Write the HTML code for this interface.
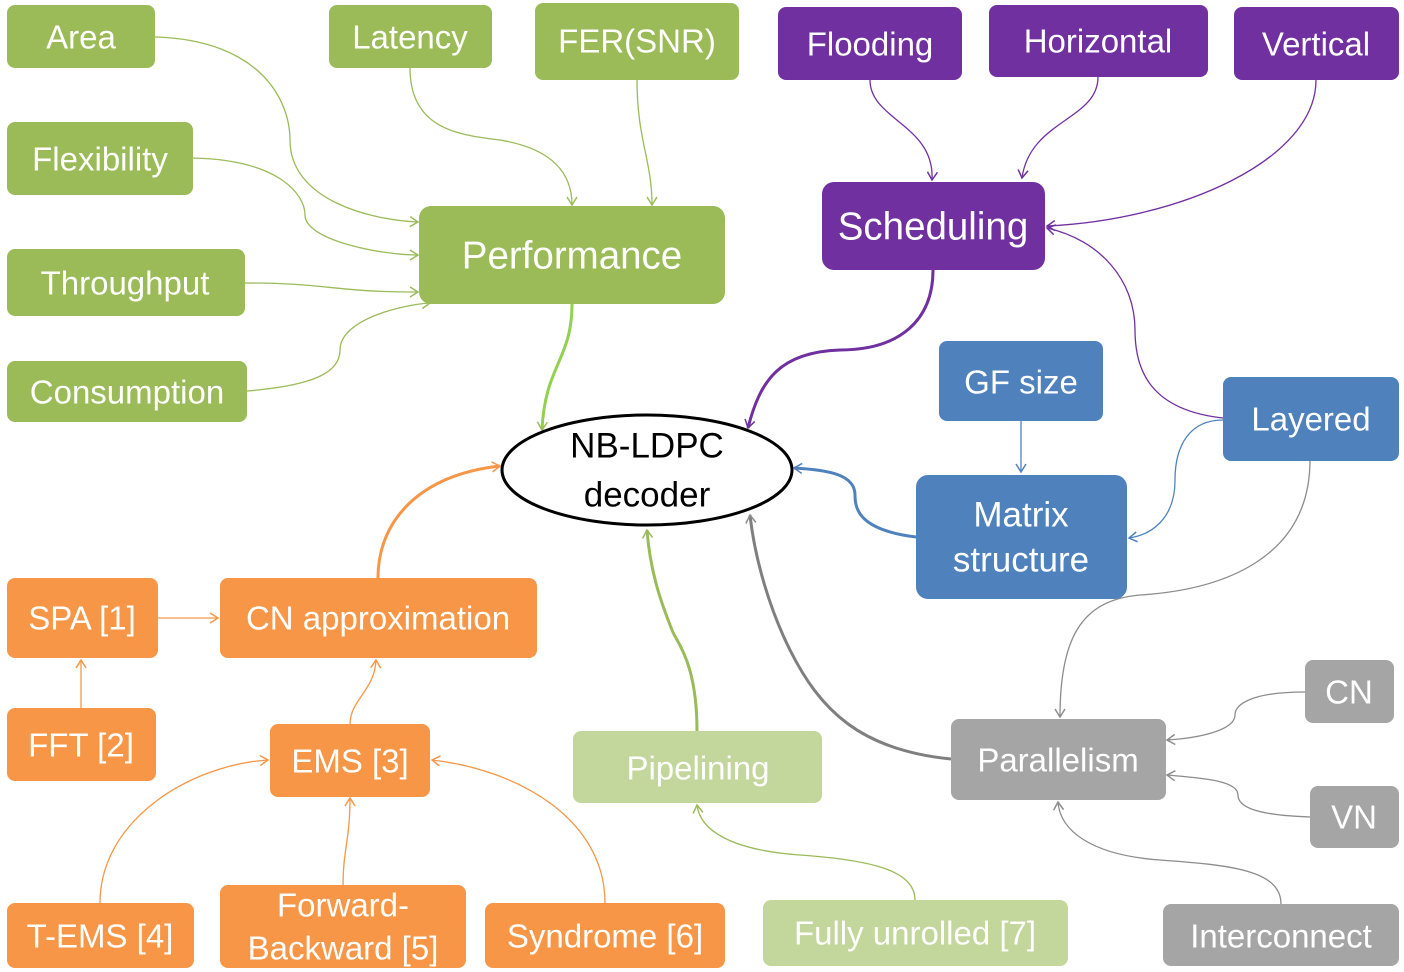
<!DOCTYPE html>
<html><head><meta charset="utf-8"><style>
html,body{margin:0;padding:0;background:#fff;}
svg{display:block;}
text{font-family:"Liberation Sans",sans-serif;fill:#fff;text-anchor:middle;dominant-baseline:central;}
</style></head><body>
<svg width="1404" height="972" viewBox="0 0 1404 972" xmlns="http://www.w3.org/2000/svg">
<defs>
<marker id="mg" markerWidth="12" markerHeight="12" refX="9" refY="6" orient="auto" markerUnits="userSpaceOnUse"><path d="M1,1 L9,6 L1,11" fill="none" stroke="#9BBB59" stroke-width="1.5"/></marker>
<marker id="mp" markerWidth="12" markerHeight="12" refX="9" refY="6" orient="auto" markerUnits="userSpaceOnUse"><path d="M1,1 L9,6 L1,11" fill="none" stroke="#7030A0" stroke-width="1.5"/></marker>
<marker id="mb" markerWidth="12" markerHeight="12" refX="9" refY="6" orient="auto" markerUnits="userSpaceOnUse"><path d="M1,1 L9,6 L1,11" fill="none" stroke="#4F81BD" stroke-width="1.5"/></marker>
<marker id="mo" markerWidth="12" markerHeight="12" refX="9" refY="6" orient="auto" markerUnits="userSpaceOnUse"><path d="M1,1 L9,6 L1,11" fill="none" stroke="#F79646" stroke-width="1.5"/></marker>
<marker id="mx" markerWidth="12" markerHeight="12" refX="9" refY="6" orient="auto" markerUnits="userSpaceOnUse"><path d="M1,1 L9,6 L1,11" fill="none" stroke="#8C8C8C" stroke-width="1.5"/></marker>
<marker id="ml" markerWidth="12" markerHeight="12" refX="9" refY="6" orient="auto" markerUnits="userSpaceOnUse"><path d="M1,1 L9,6 L1,11" fill="none" stroke="#9BBB59" stroke-width="1.5"/></marker>
</defs>
<g fill="none" stroke-width="1.3">
<path d="M155,37 C260,40 290,100 290,140 C290,200 370,220 418,222" stroke="#9BBB59" marker-end="url(#mg)"/>
<path d="M410,68 C410,130 460,135 500,140 C560,150 572,180 572,205" stroke="#9BBB59" marker-end="url(#mg)"/>
<path d="M637,80 C637,140 652,160 652,205" stroke="#9BBB59" marker-end="url(#mg)"/>
<path d="M193,158 C280,160 305,195 305,215 C305,240 380,255 418,255" stroke="#9BBB59" marker-end="url(#mg)"/>
<path d="M245,283 C330,283 330,292 418,292" stroke="#9BBB59" marker-end="url(#mg)"/>
<path d="M247,391 C320,385 340,370 340,350 C340,320 400,305 430,303" stroke="#9BBB59" marker-end="url(#mg)"/>
<path d="M572,304 C572,360 545,365 542,430" stroke="#92D050" stroke-width="3" marker-end="url(#mg)"/>
<path d="M870,80 C870,120 935,125 932,180" stroke="#7030A0" marker-end="url(#mp)"/>
<path d="M1098,77 C1098,120 1030,120 1022,178" stroke="#7030A0" marker-end="url(#mp)"/>
<path d="M1316,80 C1316,160 1180,220 1047,226" stroke="#7030A0" marker-end="url(#mp)"/>
<path d="M1223,418 C1150,410 1135,370 1135,330 C1135,280 1100,240 1047,228" stroke="#7030A0" marker-end="url(#mp)"/>
<path d="M933,270 C933,320 900,350 840,350 C780,352 760,380 748,428" stroke="#7030A0" stroke-width="3" marker-end="url(#mp)"/>
<path d="M1021,421 L1021,472" stroke="#4F81BD" marker-end="url(#mb)"/>
<path d="M1223,420 C1190,420 1175,445 1175,480 C1175,520 1150,535 1129,538" stroke="#4F81BD" marker-end="url(#mb)"/>
<path d="M916,537 C860,530 855,510 855,495 C855,475 830,470 794,468" stroke="#4F81BD" stroke-width="3" marker-end="url(#mb)"/>
<path d="M158,618 L218,618" stroke="#F79646" marker-end="url(#mo)"/>
<path d="M81,708 L81,660" stroke="#F79646" marker-end="url(#mo)"/>
<path d="M350,724 C350,700 375,690 376,660" stroke="#F79646" marker-end="url(#mo)"/>
<path d="M100,903 C100,820 190,765 268,760" stroke="#F79646" marker-end="url(#mo)"/>
<path d="M343,885 C343,850 350,840 350,798" stroke="#F79646" marker-end="url(#mo)"/>
<path d="M605,903 C605,820 520,770 432,760" stroke="#F79646" marker-end="url(#mo)"/>
<path d="M378,578 C378,520 420,475 500,466" stroke="#F79646" stroke-width="3" marker-end="url(#mo)"/>
<path d="M915,900 C915,870 870,860 800,855 C730,850 700,830 697,805" stroke="#9BBB59" marker-end="url(#ml)"/>
<path d="M697,731 C697,660 675,640 672,630 C660,600 650,570 647,530" stroke="#9BBB59" stroke-width="3" marker-end="url(#ml)"/>
<path d="M1310,460 C1310,560 1220,590 1140,595 C1080,600 1060,640 1060,717" stroke="#8C8C8C" marker-end="url(#mx)"/>
<path d="M1305,692 C1250,692 1235,705 1235,715 C1235,730 1200,738 1167,740" stroke="#8C8C8C" marker-end="url(#mx)"/>
<path d="M1310,817 C1250,815 1238,805 1238,795 C1238,780 1200,778 1167,775" stroke="#8C8C8C" marker-end="url(#mx)"/>
<path d="M1281,904 C1281,870 1230,865 1160,860 C1090,855 1060,830 1058,802" stroke="#8C8C8C" marker-end="url(#mx)"/>
<path d="M951,759 C860,750 820,710 790,650 C770,610 755,560 750,515" stroke="#7F7F7F" stroke-width="3" marker-end="url(#mx)"/>
</g>
<g>
<rect x="7" y="5" width="148" height="63" rx="8" fill="#9BBB59"/><text x="81" y="37" font-size="33">Area</text>
<rect x="329" y="5" width="163" height="63" rx="8" fill="#9BBB59"/><text x="410" y="37" font-size="33">Latency</text>
<rect x="535" y="3" width="204" height="77" rx="8" fill="#9BBB59"/><text x="637" y="41" font-size="33">FER(SNR)</text>
<rect x="7" y="122" width="186" height="73" rx="8" fill="#9BBB59"/><text x="100" y="159" font-size="33">Flexibility</text>
<rect x="7" y="249" width="238" height="67" rx="8" fill="#9BBB59"/><text x="125" y="283" font-size="33">Throughput</text>
<rect x="7" y="361" width="240" height="61" rx="8" fill="#9BBB59"/><text x="127" y="392" font-size="33">Consumption</text>
<rect x="419" y="206" width="306" height="98" rx="12" fill="#9BBB59"/><text x="572" y="256" font-size="38.5">Performance</text>
<rect x="778" y="7" width="184" height="73" rx="8" fill="#7030A0"/><text x="870" y="44" font-size="33">Flooding</text>
<rect x="989" y="5" width="219" height="72" rx="8" fill="#7030A0"/><text x="1098" y="41" font-size="33">Horizontal</text>
<rect x="1234" y="7" width="165" height="73" rx="8" fill="#7030A0"/><text x="1316" y="44" font-size="33">Vertical</text>
<rect x="822" y="182" width="223" height="88" rx="12" fill="#7030A0"/><text x="933" y="227" font-size="38.5">Scheduling</text>
<rect x="939" y="341" width="164" height="80" rx="8" fill="#4F81BD"/><text x="1021" y="382" font-size="33">GF size</text>
<rect x="1223" y="377" width="176" height="84" rx="8" fill="#4F81BD"/><text x="1311" y="419" font-size="33">Layered</text>
<rect x="916" y="475" width="211" height="124" rx="12" fill="#4F81BD"/><text x="1021" y="515" font-size="35">Matrix</text><text x="1021" y="560" font-size="35">structure</text>
<ellipse cx="647" cy="470" rx="145" ry="55" fill="#fff" stroke="#000" stroke-width="3"/>
<text x="647" y="446" font-size="35" style="fill:#000">NB-LDPC</text><text x="647" y="495" font-size="35" style="fill:#000">decoder</text>
<rect x="7" y="578" width="151" height="80" rx="8" fill="#F79646"/><text x="82" y="618" font-size="33">SPA [1]</text>
<rect x="220" y="578" width="317" height="80" rx="8" fill="#F79646"/><text x="378" y="618" font-size="33">CN approximation</text>
<rect x="7" y="708" width="149" height="73" rx="8" fill="#F79646"/><text x="81" y="745" font-size="33">FFT [2]</text>
<rect x="270" y="724" width="160" height="73" rx="8" fill="#F79646"/><text x="350" y="761" font-size="33">EMS [3]</text>
<rect x="7" y="903" width="187" height="65" rx="8" fill="#F79646"/><text x="100" y="936" font-size="33">T-EMS [4]</text>
<rect x="220" y="885" width="246" height="83" rx="8" fill="#F79646"/><text x="343" y="905" font-size="33">Forward-</text><text x="343" y="948" font-size="33">Backward [5]</text>
<rect x="485" y="903" width="240" height="65" rx="8" fill="#F79646"/><text x="605" y="936" font-size="33">Syndrome [6]</text>
<rect x="573" y="731" width="249" height="72" rx="8" fill="#C3D69B"/><text x="698" y="768" font-size="33">Pipelining</text>
<rect x="763" y="900" width="305" height="66" rx="8" fill="#C3D69B"/><text x="915" y="933" font-size="33">Fully unrolled [7]</text>
<rect x="951" y="719" width="215" height="81" rx="8" fill="#A5A5A5"/><text x="1058" y="760" font-size="33">Parallelism</text>
<rect x="1305" y="660" width="89" height="63" rx="8" fill="#A5A5A5"/><text x="1349" y="692" font-size="33">CN</text>
<rect x="1310" y="786" width="89" height="62" rx="8" fill="#A5A5A5"/><text x="1354" y="817" font-size="33">VN</text>
<rect x="1163" y="904" width="236" height="62" rx="8" fill="#A5A5A5"/><text x="1281" y="936" font-size="33">Interconnect</text>
</g>
</svg>
</body></html>
